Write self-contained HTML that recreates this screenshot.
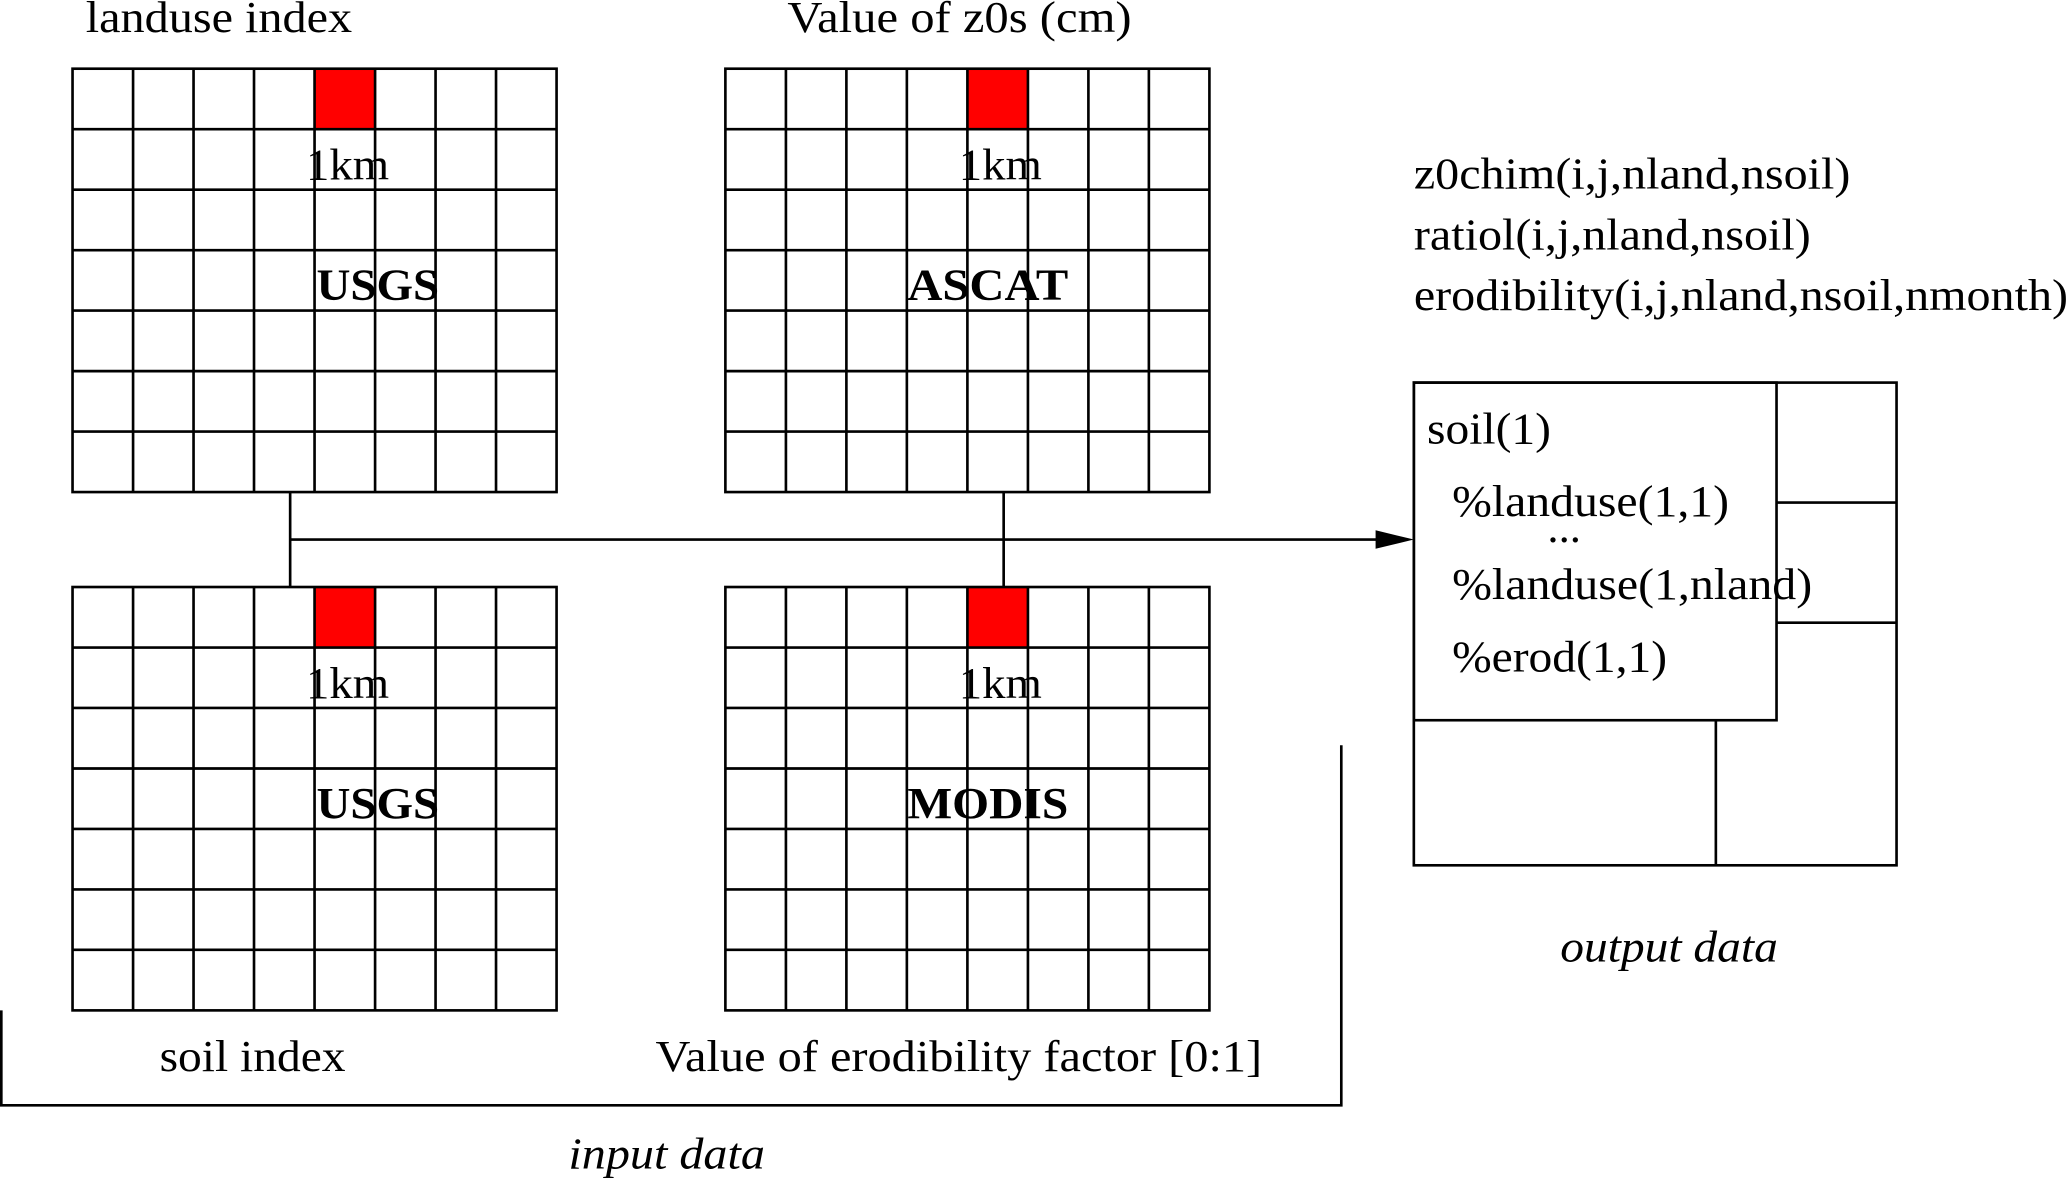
<!DOCTYPE html>
<html><head><meta charset="utf-8"><style>
html,body{margin:0;padding:0;background:#fff;}
svg{display:block;}
text{font-family:"Liberation Serif",serif;fill:#000;}
</style></head><body>
<svg width="2068" height="1178" viewBox="0 0 1568 893" xmlns="http://www.w3.org/2000/svg">
<defs>
<g id="grid">
<rect x="183.5" y="0" width="45.9" height="45.9" fill="#ff0000"/>
<g stroke="#000" stroke-width="2" fill="none">
<rect x="0" y="0" width="367" height="321"/>
<path d="M45.9 0V321M91.75 0V321M137.6 0V321M183.5 0V321M229.4 0V321M275.25 0V321M321.1 0V321
M0 45.9H367M0 91.7H367M0 137.6H367M0 183.4H367M0 229.3H367M0 275.1H367"/>
</g>
</g>
</defs>
<use href="#grid" x="55" y="52"/>
<use href="#grid" x="550" y="52"/>
<use href="#grid" x="55" y="445"/>
<use href="#grid" x="550" y="445"/>

<g font-size="34" lengthAdjust="spacingAndGlyphs">
<text x="65" y="24" textLength="202" lengthAdjust="spacingAndGlyphs">landuse index</text>
<text x="597" y="24" textLength="261" lengthAdjust="spacingAndGlyphs">Value of z0s (cm)</text>
<text x="232" y="136" textLength="63" lengthAdjust="spacingAndGlyphs">1km</text>
<text x="727" y="136" textLength="63" lengthAdjust="spacingAndGlyphs">1km</text>
<text x="232" y="529" textLength="63" lengthAdjust="spacingAndGlyphs">1km</text>
<text x="727" y="529" textLength="63" lengthAdjust="spacingAndGlyphs">1km</text>
<text x="240" y="227" font-weight="bold" textLength="93" lengthAdjust="spacingAndGlyphs">USGS</text>
<text x="688" y="227" font-weight="bold" textLength="122" lengthAdjust="spacingAndGlyphs">ASCAT</text>
<text x="240" y="620" font-weight="bold" textLength="93" lengthAdjust="spacingAndGlyphs">USGS</text>
<text x="688" y="620" font-weight="bold" textLength="122" lengthAdjust="spacingAndGlyphs">MODIS</text>
<text x="121" y="812" textLength="141" lengthAdjust="spacingAndGlyphs">soil index</text>
<text x="497" y="812" textLength="460" lengthAdjust="spacingAndGlyphs">Value of erodibility factor [0:1]</text>
<text x="431" y="886" font-style="italic" textLength="149" lengthAdjust="spacingAndGlyphs">input data</text>
<text x="1183" y="729" font-style="italic" textLength="165" lengthAdjust="spacingAndGlyphs">output data</text>
<text x="1072" y="143" textLength="331" lengthAdjust="spacingAndGlyphs">z0chim(i,j,nland,nsoil)</text>
<text x="1072" y="189" textLength="301" lengthAdjust="spacingAndGlyphs">ratiol(i,j,nland,nsoil)</text>
<text x="1072" y="235" textLength="496" lengthAdjust="spacingAndGlyphs">erodibility(i,j,nland,nsoil,nmonth)</text>
<text x="1082" y="336" textLength="94" lengthAdjust="spacingAndGlyphs">soil(1)</text>
<text x="1101" y="391" textLength="210" lengthAdjust="spacingAndGlyphs">%landuse(1,1)</text>
<text x="1186" y="411" text-anchor="middle">...</text>
<text x="1101" y="454" textLength="273" lengthAdjust="spacingAndGlyphs">%landuse(1,nland)</text>
<text x="1101" y="509" textLength="163" lengthAdjust="spacingAndGlyphs">%erod(1,1)</text>
</g>

<g stroke="#000" stroke-width="2" fill="none">
<path d="M220 373V445M761 373V445M220 409H1045"/>
<path d="M1 766V838H1017V565"/>
<rect x="1072" y="290" width="366" height="366"/>
<rect x="1072" y="290" width="275" height="256"/>
<path d="M1347 381H1438M1347 472H1438M1301 546V656"/>
</g>
<polygon points="1043,402 1072,409 1043,416" fill="#000"/>
</svg>
</body></html>
